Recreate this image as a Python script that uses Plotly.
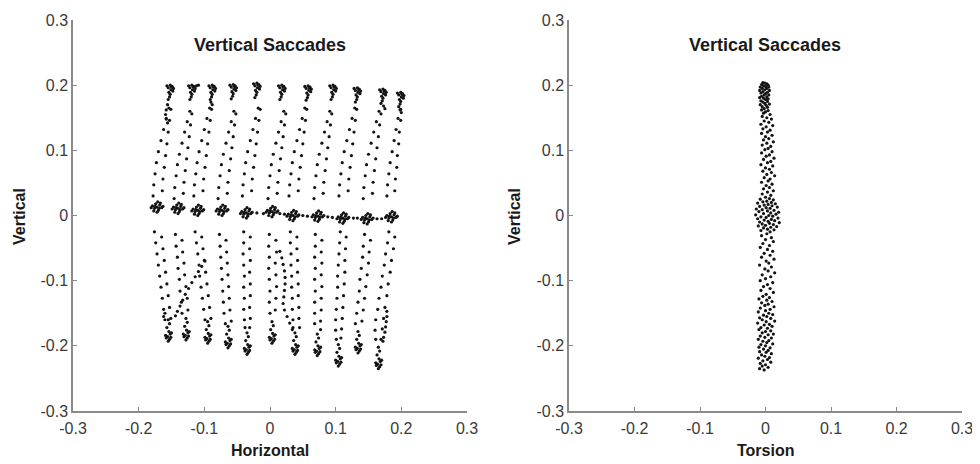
import plotly.graph_objects as go

# ---------------- Left panel: Horizontal vs Vertical (eye position samples) ----------------
top_fixations = [
    (-.152,.200),(-.149,.198),(-.155,.196),(-.151,.193),(-.148,.191),(-.154,.189),(-.152,.186),(-.153,.182),(-.155,.178),(-.150,.197),(-.157,.199),(-.147,.195),
    (-.156,.170),(-.158,.162),(-.159,.155),(-.158,.148),(-.156,.142),
    (-.119,.200),(-.116,.198),(-.122,.196),(-.118,.193),(-.115,.191),(-.121,.189),(-.119,.186),(-.120,.182),(-.122,.178),(-.117,.197),(-.124,.199),(-.114,.195),(-.112,.199),(-.109,.200),
    (-.088,.200),(-.085,.198),(-.091,.196),(-.087,.193),(-.084,.191),(-.090,.189),(-.088,.186),(-.089,.182),(-.091,.178),(-.086,.197),(-.093,.199),(-.083,.195),(-.090,.174),(-.088,.170),
    (-.056,.201),(-.053,.199),(-.059,.197),(-.055,.194),(-.052,.192),(-.058,.190),(-.056,.187),(-.057,.183),(-.059,.179),(-.054,.198),(-.061,.200),(-.051,.196),
    (-.020,.203),(-.017,.201),(-.023,.199),(-.019,.196),(-.016,.194),(-.022,.192),(-.020,.189),(-.021,.185),(-.023,.181),(-.018,.200),(-.025,.202),(-.015,.198),
    (.018,.200),(.021,.198),(.015,.196),(.019,.193),(.022,.191),(.016,.189),(.018,.186),(.017,.182),(.015,.178),(.020,.197),(.013,.199),(.023,.195),
    (.058,.199),(.061,.197),(.055,.195),(.059,.192),(.062,.190),(.056,.188),(.058,.185),(.057,.181),(.055,.177),(.060,.196),(.053,.198),(.063,.194),
    (.096,.200),(.099,.198),(.093,.196),(.097,.193),(.100,.191),(.094,.189),(.096,.186),(.095,.182),(.093,.178),(.098,.197),(.091,.199),(.101,.195),
    (.133,.196),(.136,.194),(.130,.192),(.134,.189),(.137,.187),(.131,.185),(.133,.182),(.132,.178),(.130,.174),(.135,.193),(.128,.195),(.138,.191),
    (.172,.194),(.175,.192),(.169,.190),(.173,.187),(.176,.185),(.170,.183),(.172,.180),(.171,.176),(.169,.172),(.174,.191),(.167,.193),(.177,.189),(.173,.168),(.175,.164),
    (.199,.189),(.202,.187),(.196,.185),(.200,.182),(.203,.180),(.197,.178),(.199,.175),(.198,.171),(.196,.167),(.201,.186),(.194,.188),(.204,.184),(.199,.163),
]

up_saccades = [
    (-.178,.030),(-.177,.047),(-.175,.064),(-.173,.081),(-.170,.098),(-.166,.115),(-.162,.132),(-.158,.149),(-.154,.165),
    (-.164,.038),(-.163,.056),(-.161,.074),(-.159,.092),(-.157,.110),(-.155,.128),(-.153,.146),(-.151,.163),
    (-.146,.026),(-.145,.043),(-.143,.061),(-.141,.078),(-.138,.094),(-.134,.111),(-.130,.128),(-.126,.144),(-.122,.160),
    (-.132,.034),(-.131,.051),(-.129,.069),(-.127,.087),(-.125,.104),(-.123,.121),(-.121,.139),(-.119,.156),
    (-.116,.030),(-.115,.047),(-.113,.064),(-.111,.081),(-.108,.098),(-.104,.115),(-.100,.132),(-.096,.149),(-.092,.165),
    (-.102,.038),(-.101,.056),(-.099,.074),(-.097,.092),(-.095,.110),(-.093,.128),(-.091,.146),(-.089,.163),
    (-.079,.026),(-.078,.043),(-.076,.061),(-.074,.078),(-.071,.094),(-.067,.111),(-.063,.128),(-.059,.144),(-.055,.160),
    (-.065,.034),(-.064,.051),(-.062,.069),(-.060,.087),(-.058,.104),(-.056,.121),(-.054,.139),(-.052,.156),
    (-.042,.030),(-.041,.047),(-.039,.064),(-.037,.081),(-.034,.098),(-.030,.115),(-.026,.132),(-.022,.149),(-.018,.165),
    (-.028,.038),(-.027,.056),(-.025,.074),(-.023,.092),(-.021,.110),(-.019,.128),(-.017,.146),(-.015,.163),
    (-.003,.026),(-.002,.043),(.000,.061),(.002,.078),(.005,.094),(.009,.111),(.013,.128),(.017,.144),(.021,.160),
    (.011,.034),(.012,.051),(.014,.069),(.016,.087),(.018,.104),(.020,.121),(.022,.139),(.024,.156),
    (.029,.030),(.030,.047),(.032,.064),(.034,.081),(.037,.098),(.041,.115),(.045,.132),(.049,.149),(.053,.165),
    (.043,.038),(.044,.056),(.046,.074),(.048,.092),(.050,.110),(.052,.128),(.054,.146),(.056,.163),
    (.067,.026),(.068,.043),(.070,.061),(.072,.078),(.075,.094),(.079,.111),(.083,.128),(.087,.144),(.091,.160),
    (.081,.034),(.082,.051),(.084,.069),(.086,.087),(.088,.104),(.090,.121),(.092,.139),(.094,.156),
    (.105,.030),(.106,.047),(.108,.064),(.110,.081),(.113,.098),(.117,.115),(.121,.132),(.125,.149),(.129,.165),
    (.119,.038),(.120,.056),(.122,.074),(.124,.092),(.126,.110),(.128,.128),(.130,.146),(.132,.163),
    (.142,.026),(.143,.043),(.145,.061),(.147,.078),(.150,.094),(.154,.111),(.158,.128),(.162,.144),(.166,.160),
    (.156,.034),(.157,.051),(.159,.069),(.161,.087),(.163,.104),(.165,.121),(.167,.139),(.169,.156),
    (.178,.030),(.179,.047),(.181,.064),(.183,.081),(.186,.098),(.189,.115),(.192,.132),(.195,.149),(.198,.162),
    (.190,.038),(.191,.056),(.193,.074),(.194,.092),(.196,.110),(.197,.128),(.199,.146),(.200,.158),
]

center_fixations = [
    (-.172,.013),(-.168,.016),(-.176,.011),(-.165,.012),(-.179,.015),(-.170,.008),(-.174,.018),(-.167,.019),(-.177,.007),(-.163,.014),(-.181,.012),(-.171,.021),(-.172,.005),(-.169,.011),(-.175,.014),
    (-.140,.011),(-.136,.014),(-.144,.009),(-.133,.010),(-.147,.013),(-.138,.006),(-.142,.016),(-.135,.017),(-.145,.005),(-.131,.012),(-.149,.010),(-.139,.019),(-.140,.003),(-.137,.009),(-.143,.012),
    (-.110,.008),(-.106,.011),(-.114,.006),(-.103,.007),(-.117,.010),(-.108,.003),(-.112,.013),(-.105,.014),(-.115,.002),(-.101,.009),(-.119,.007),(-.109,.016),(-.110,.000),(-.107,.006),(-.113,.009),
    (-.073,.008),(-.069,.011),(-.077,.006),(-.066,.007),(-.080,.010),(-.071,.003),(-.075,.013),(-.068,.014),(-.078,.002),(-.064,.009),(-.082,.007),(-.072,.016),(-.073,.000),(-.070,.006),(-.076,.009),
    (-.036,.004),(-.032,.007),(-.040,.002),(-.029,.003),(-.043,.006),(-.034,-.001),(-.038,.009),(-.031,.010),(-.041,-.002),(-.027,.005),(-.045,.003),(-.035,.012),(-.036,-.004),(-.033,.002),(-.039,.005),
    (.003,.006),(.007,.009),(-.001,.004),(.010,.005),(-.004,.008),(.005,.001),(.001,.011),(.008,.012),(-.002,.000),(.012,.007),(-.006,.005),(.004,.014),(.003,-.002),(.006,.004),(.000,.007),
    (.035,.000),(.039,.003),(.031,-.002),(.042,-.001),(.028,.002),(.037,-.005),(.033,.005),(.040,.006),(.030,-.006),(.044,.001),(.026,-.001),(.036,.008),(.035,-.008),(.038,-.002),(.032,.001),
    (.073,-.001),(.077,.002),(.069,-.003),(.080,-.002),(.066,.001),(.075,-.006),(.071,.004),(.078,.005),(.068,-.007),(.082,.000),(.064,-.002),(.074,.007),(.073,-.009),(.076,-.003),(.070,.000),
    (.111,-.004),(.115,-.001),(.107,-.006),(.118,-.005),(.104,-.002),(.113,-.009),(.109,.001),(.116,.002),(.106,-.010),(.120,-.003),(.102,-.005),(.112,.004),(.111,-.012),(.114,-.006),(.108,-.003),
    (.148,-.005),(.152,-.002),(.144,-.007),(.155,-.006),(.141,-.003),(.150,-.010),(.146,.000),(.153,.001),(.143,-.011),(.157,-.004),(.139,-.006),(.149,.003),(.148,-.013),(.151,-.007),(.145,-.004),
    (.185,-.002),(.189,.001),(.181,-.004),(.192,-.003),(.178,.000),(.187,-.007),(.183,.003),(.190,.004),(.180,-.008),(.194,-.001),(.176,-.003),(.186,.006),(.185,-.010),(.188,-.004),(.182,-.001),
    (-.020,.004),(-.010,.003),(.015,.003),(.022,.002),(.050,.000),(.057,-.001),(.088,-.002),(.095,-.003),(.127,-.004),(.133,-.004),(.163,-.005),(.170,-.005),
]

down_saccades = [
    (-.176,-.025),(-.174,-.042),(-.172,-.059),(-.170,-.076),(-.168,-.093),(-.166,-.110),(-.164,-.127),(-.162,-.144),(-.160,-.160),
    (-.165,-.033),(-.163,-.051),(-.161,-.069),(-.159,-.087),(-.157,-.105),(-.155,-.123),(-.153,-.141),(-.151,-.158),
    (-.144,-.029),(-.143,-.047),(-.141,-.064),(-.140,-.081),(-.138,-.098),(-.137,-.116),(-.135,-.133),(-.134,-.150),
    (-.134,-.038),(-.133,-.056),(-.131,-.073),(-.130,-.091),(-.128,-.109),(-.126,-.127),(-.125,-.145),
    (-.114,-.025),(-.112,-.042),(-.110,-.059),(-.108,-.076),(-.107,-.093),(-.105,-.110),(-.103,-.127),(-.101,-.144),(-.099,-.160),
    (-.104,-.033),(-.102,-.051),(-.100,-.069),(-.098,-.087),(-.096,-.105),(-.094,-.123),(-.092,-.141),(-.090,-.158),
    (-.077,-.029),(-.076,-.047),(-.075,-.064),(-.074,-.081),(-.073,-.098),(-.072,-.116),(-.071,-.133),(-.070,-.150),(-.068,-.166),
    (-.067,-.038),(-.066,-.056),(-.065,-.073),(-.064,-.091),(-.063,-.109),(-.062,-.127),(-.061,-.145),(-.059,-.162),
    (-.040,-.025),(-.040,-.042),(-.041,-.059),(-.040,-.076),(-.039,-.093),(-.040,-.110),(-.039,-.127),(-.040,-.144),(-.039,-.160),(-.038,-.172),
    (-.030,-.033),(-.031,-.051),(-.030,-.069),(-.031,-.087),(-.030,-.105),(-.030,-.123),(-.031,-.141),(-.030,-.158),(-.031,-.172),
    (-.001,-.029),(-.002,-.047),(-.001,-.064),(-.002,-.081),(-.001,-.098),(.000,-.116),(-.001,-.133),(.000,-.150),
    (.009,-.038),(.010,-.056),(.008,-.073),(.009,-.091),(.010,-.109),(.009,-.127),(.008,-.145),
    (.031,-.025),(.031,-.042),(.032,-.059),(.032,-.076),(.033,-.093),(.033,-.110),(.034,-.127),(.034,-.144),(.035,-.160),(.035,-.172),
    (.041,-.033),(.041,-.051),(.042,-.069),(.042,-.087),(.043,-.105),(.043,-.123),(.044,-.141),(.044,-.158),(.045,-.172),
    (.069,-.029),(.069,-.047),(.068,-.064),(.069,-.081),(.068,-.098),(.069,-.116),(.068,-.133),(.068,-.150),(.068,-.166),
    (.079,-.038),(.078,-.056),(.079,-.073),(.078,-.091),(.079,-.109),(.078,-.127),(.078,-.145),(.077,-.162),(.077,-.175),
    (.107,-.025),(.106,-.042),(.105,-.059),(.104,-.076),(.103,-.093),(.103,-.110),(.102,-.127),(.101,-.144),(.100,-.160),(.100,-.176),(.101,-.190),
    (.116,-.033),(.115,-.051),(.114,-.069),(.114,-.087),(.113,-.105),(.112,-.123),(.111,-.141),(.110,-.158),(.109,-.174),(.108,-.188),
    (.144,-.029),(.142,-.047),(.141,-.064),(.139,-.081),(.137,-.098),(.136,-.116),(.134,-.133),(.132,-.150),(.130,-.166),
    (.153,-.038),(.151,-.056),(.150,-.073),(.148,-.091),(.146,-.109),(.144,-.127),(.142,-.145),(.140,-.162),
    (.181,-.025),(.179,-.042),(.176,-.059),(.174,-.076),(.171,-.093),(.169,-.110),(.166,-.127),(.164,-.144),(.161,-.160),(.160,-.176),(.161,-.190),
    (.190,-.033),(.188,-.051),(.185,-.069),(.183,-.087),(.180,-.105),(.178,-.123),(.175,-.141),(.173,-.158),(.171,-.174),(.169,-.190),
    (-.099,-.070),(-.104,-.078),(-.109,-.086),(-.114,-.094),(-.119,-.103),(-.124,-.112),(-.129,-.121),(-.133,-.130),(-.137,-.139),(-.141,-.147),(-.144,-.154),
    (.015,-.055),(.018,-.065),(.020,-.075),(.022,-.085),(.023,-.095),(.023,-.105),(.022,-.115),(.021,-.125),(.020,-.135),(.022,-.145),(.026,-.155),(.030,-.165),(.034,-.175),
    (.178,-.147),(.178,-.155),(.177,-.163),(.176,-.171),(.175,-.179),(.173,-.187),(.172,-.193),
]

bottom_fixations = [
    (-.155,-.160),(-.153,-.166),(-.157,-.172),(-.154,-.178),(-.152,-.182),(-.156,-.186),(-.153,-.190),(-.158,-.188),(-.151,-.187),(-.155,-.193),(-.159,-.184),(-.150,-.180),(-.162,-.155),(-.160,-.150),
    (-.128,-.158),(-.126,-.164),(-.130,-.170),(-.127,-.176),(-.125,-.180),(-.129,-.184),(-.126,-.188),(-.131,-.186),(-.124,-.185),(-.128,-.191),(-.132,-.182),(-.123,-.178),
    (-.095,-.163),(-.093,-.169),(-.097,-.175),(-.094,-.181),(-.092,-.185),(-.096,-.189),(-.093,-.193),(-.098,-.191),(-.091,-.190),(-.095,-.196),(-.099,-.187),(-.090,-.183),
    (-.064,-.170),(-.062,-.176),(-.066,-.182),(-.063,-.188),(-.061,-.192),(-.065,-.196),(-.062,-.200),(-.067,-.198),(-.060,-.197),(-.064,-.203),(-.068,-.194),(-.059,-.190),
    (-.035,-.180),(-.033,-.186),(-.037,-.192),(-.034,-.198),(-.032,-.202),(-.036,-.206),(-.033,-.210),(-.038,-.208),(-.031,-.207),(-.035,-.213),(-.039,-.204),(-.030,-.200),
    (.003,-.163),(.005,-.169),(.001,-.175),(.004,-.181),(.006,-.185),(.002,-.189),(.005,-.193),(.000,-.191),(.007,-.190),(.003,-.196),(-.001,-.187),(.008,-.183),
    (.038,-.180),(.040,-.186),(.036,-.192),(.039,-.198),(.041,-.202),(.037,-.206),(.040,-.210),(.035,-.208),(.042,-.207),(.038,-.213),(.034,-.204),(.043,-.200),
    (.072,-.182),(.074,-.188),(.070,-.194),(.073,-.200),(.075,-.204),(.071,-.208),(.074,-.212),(.069,-.210),(.076,-.209),(.072,-.215),(.068,-.206),(.077,-.202),
    (.104,-.198),(.106,-.204),(.102,-.210),(.105,-.216),(.107,-.220),(.103,-.224),(.106,-.228),(.101,-.226),(.108,-.225),(.104,-.231),(.100,-.222),(.109,-.218),
    (.134,-.178),(.136,-.184),(.132,-.190),(.135,-.196),(.137,-.200),(.133,-.204),(.136,-.208),(.131,-.206),(.138,-.205),(.134,-.211),(.130,-.202),(.139,-.198),
    (.165,-.202),(.167,-.208),(.163,-.214),(.166,-.220),(.168,-.224),(.164,-.228),(.167,-.232),(.162,-.230),(.169,-.229),(.165,-.235),(.161,-.226),(.170,-.222),
]

# ---------------- Right panel: Torsion vs Vertical ----------------
torsion_top = [
    (-.004,.204),(-.001,.203),(.002,.202),(-.006,.201),(.004,.200),(-.003,.199),(.000,.198),(-.008,.197),(.005,.197),(-.005,.195),(.002,.195),(-.001,.193),
    (-.009,.192),(.006,.192),(-.004,.190),(.003,.189),(-.007,.188),(.000,.187),(-.002,.185),(.005,.185),(-.006,.183),(.002,.182),(-.009,.181),(-.003,.180),
    (.004,.179),(.000,.178),(-.007,.176),(.003,.175),(-.004,.174),(-.001,.172),(.006,.171),(-.008,.170),(.001,.169),(-.005,.167),(.003,.166),(-.002,.164),
    (-.006,.162),(.004,.161),(.000,.159),(-.003,.157),(.007,.155),
]
torsion_upper = [
    (-.005,.152),(.002,.150),(.009,.148),(-.002,.145),(.005,.143),(-.007,.140),(.011,.138),(.001,.136),(-.004,.133),(.007,.131),(.003,.128),(-.006,.126),
    (.010,.123),(.000,.121),(.005,.118),(-.003,.116),(.012,.113),(.002,.111),(-.005,.108),(.008,.106),(.004,.103),(-.001,.101),(.010,.098),(-.006,.096),
    (.006,.093),(.001,.091),(.013,.088),(-.003,.086),(.008,.083),(.003,.081),(-.007,.078),(.011,.076),(.000,.073),(.006,.071),(-.004,.068),(.009,.066),
    (.002,.063),(.014,.061),(-.002,.058),(.007,.056),(.004,.053),(-.006,.051),(.010,.048),(.001,.046),(.006,.043),(-.003,.041),(.012,.038),(.003,.036),
    (-.005,.033),(.008,.031),
]
torsion_center = [
    (.000,.028),(.006,.026),(-.008,.025),(.012,.024),(.002,.022),(-.004,.021),(.009,.020),(-.012,.019),(.015,.018),(.004,.017),(-.002,.016),(.010,.015),
    (-.009,.014),(.018,.013),(.001,.012),(.007,.011),(-.014,.010),(-.005,.009),(.013,.008),(.003,.007),(-.010,.006),(.020,.005),(.008,.004),(-.003,.003),
    (.016,.002),(-.015,.001),(.005,.000),(.011,-.001),(-.007,-.002),(.001,-.003),(.019,-.004),(-.012,-.005),(.009,-.006),(-.002,-.007),(.014,-.008),(.004,-.009),
    (-.009,-.010),(.021,-.011),(.006,-.012),(-.005,-.013),(.012,-.014),(.000,-.015),(-.011,-.016),(.017,-.017),(.008,-.018),(-.003,-.019),(.003,-.021),(.013,-.022),
    (-.007,-.023),(.007,-.025),
]
torsion_lower = [
    (.002,-.028),(-.006,-.031),(.009,-.034),(.000,-.037),(.012,-.040),(-.004,-.043),(.006,-.046),(-.008,-.049),(.003,-.052),(.011,-.055),(-.002,-.058),(.007,-.061),
    (-.006,-.064),(.013,-.067),(.001,-.070),(.005,-.073),(-.009,-.076),(.009,-.079),(-.001,-.082),(.004,-.085),(.014,-.088),(-.005,-.091),(.008,-.094),(.000,-.097),
    (-.008,-.100),(.011,-.103),(.003,-.106),(-.003,-.109),(.007,-.112),(-.007,-.115),(.012,-.118),(.001,-.121),
]
torsion_bottom = [
    (-.004,-.124),(.006,-.126),(-.010,-.128),(.002,-.130),(.010,-.132),(-.006,-.134),(.004,-.136),(-.001,-.138),(.013,-.140),(-.008,-.142),(.007,-.144),(.000,-.146),
    (-.011,-.148),(.005,-.150),(.011,-.152),(-.003,-.153),(.002,-.155),(-.009,-.157),(.008,-.158),(-.005,-.160),(.014,-.162),(.001,-.163),(-.012,-.165),(.006,-.167),
    (-.002,-.168),(.010,-.170),(-.007,-.172),(.003,-.173),(-.010,-.175),(.008,-.177),(.000,-.178),(-.005,-.180),(.012,-.182),(.004,-.183),(-.008,-.185),(-.001,-.187),
    (.009,-.188),(-.011,-.190),(.005,-.192),(-.004,-.193),(.002,-.195),(.011,-.197),(-.007,-.198),(.000,-.200),(-.010,-.202),(.007,-.203),(-.003,-.205),(.004,-.207),
    (-.009,-.209),(.001,-.210),(.009,-.212),(-.006,-.214),(-.001,-.216),(.006,-.218),(-.011,-.219),(.003,-.221),(-.004,-.223),(.008,-.225),(-.008,-.227),(.000,-.229),
    (-.005,-.231),(.004,-.233),(-.009,-.235),(-.002,-.237),
]

tick_vals = [-0.3, -0.2, -0.1, 0, 0.1, 0.2, 0.3]
tick_text = ["-0.3", "-0.2", "-0.1", "0", "0.1", "0.2", "0.3"]
panel_title = "Vertical Saccades"
left_xlabel, right_xlabel, ylabel = "Horizontal", "Torsion", "Vertical"

# The page body keeps its default 8 px margin, so the figure is 8 px smaller in each
# direction and page-pixel positions are converted to figure fractions with that offset.
OFF = 8
W, H = 980 - OFF, 464 - OFF


def fx(px):
    return (px - OFF) / W


def fy(py):
    return 1 - (py - OFF) / H


FONT = "Liberation Sans, Arial, Helvetica, sans-serif"
DOT = dict(size=3.2, color="#141414", line=dict(width=0))

fig = go.Figure()

left_groups = [top_fixations, up_saccades, center_fixations, down_saccades, bottom_fixations]
right_groups = [torsion_top, torsion_upper, torsion_center, torsion_lower, torsion_bottom]

for grp in left_groups:
    xs, ys = zip(*grp)
    fig.add_trace(go.Scatter(x=list(xs), y=list(ys), mode="markers", marker=DOT,
                             xaxis="x", yaxis="y", showlegend=False, hoverinfo="skip"))
for grp in right_groups:
    xs, ys = zip(*grp)
    fig.add_trace(go.Scatter(x=list(xs), y=list(ys), mode="markers", marker=DOT,
                             xaxis="x2", yaxis="y2", showlegend=False, hoverinfo="skip"))

axis_common = dict(
    range=[-0.3, 0.3], tickvals=tick_vals, ticktext=tick_text,
    ticks="inside", ticklen=4, tickwidth=1, tickcolor="#8a8a8a",
    showline=True, linecolor="#8a8a8a", linewidth=1.5,
    showgrid=False, zeroline=False, mirror=False, automargin=False,
    tickfont=dict(family=FONT, size=16, color="#3a3a3a"),
    fixedrange=True,
)

y_dom = [fy(411), fy(20)]
fig.update_layout(
    width=W, height=H,
    margin=dict(l=0, r=0, t=0, b=0),
    paper_bgcolor="white", plot_bgcolor="white",
    xaxis=dict(axis_common, domain=[fx(73), fx(467)], anchor="y", ticklabelstandoff=2),
    yaxis=dict(axis_common, domain=y_dom, anchor="x"),
    xaxis2=dict(axis_common, domain=[fx(569), fx(962)], anchor="y2", ticklabelstandoff=2),
    yaxis2=dict(axis_common, domain=y_dom, anchor="x2"),
    font=dict(family=FONT, color="#1a1a1a"),
)

ann = []
for cx in (270, 765):
    ann.append(dict(text="<b>%s</b>" % panel_title, x=fx(cx), y=fy(45), xref="paper", yref="paper",
                    showarrow=False, font=dict(family=FONT, size=18, color="#1a1a1a"),
                    xanchor="center", yanchor="middle"))
for cx, lab in ((270, left_xlabel), (765, right_xlabel)):
    ann.append(dict(text="<b>%s</b>" % lab, x=fx(cx), y=fy(450), xref="paper", yref="paper",
                    showarrow=False, font=dict(family=FONT, size=16, color="#1a1a1a"),
                    xanchor="center", yanchor="middle"))
for cx in (20, 515):
    ann.append(dict(text="<b>%s</b>" % ylabel, x=fx(cx), y=fy(217), xref="paper", yref="paper",
                    showarrow=False, textangle=-90, font=dict(family=FONT, size=16, color="#1a1a1a"),
                    xanchor="center", yanchor="middle"))
fig.update_layout(annotations=ann)

fig.write_html("out.html")
